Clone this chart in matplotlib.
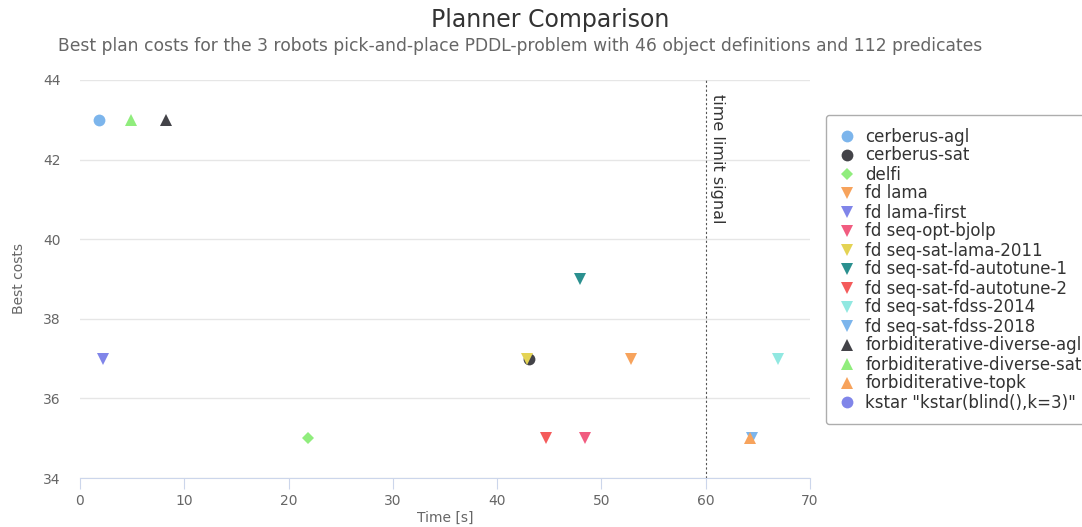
import matplotlib
matplotlib.use("Agg")
import matplotlib.pyplot as plt

plt.rcParams['font.family'] = ['DejaVu Sans']

planners = ["cerberus-agl", "cerberus-sat", "delfi", "fd lama", "fd lama-first",
            "fd seq-opt-bjolp", "fd seq-sat-lama-2011", "fd seq-sat-fd-autotune-1",
            "fd seq-sat-fd-autotune-2", "fd seq-sat-fdss-2014", "fd seq-sat-fdss-2018",
            "forbiditerative-diverse-agl", "forbiditerative-diverse-sat",
            "forbiditerative-topk", 'kstar "kstar(blind(),k=3)"']
times = [[1.8], [43.1], [21.9], [52.8], [2.2], [48.4], [42.9], [47.9], [44.7],
         [66.9], [64.4], [8.2], [4.9], [64.2], []]
costs = [[43], [37], [35], [37], [37], [35], [37], [39], [35], [37], [35], [43], [43], [35], []]
colors = ["#7cb5ec", "#434348", "#90ed7d", "#f7a35c", "#8085e9", "#f15c80", "#e4d354",
          "#2b908f", "#f45b5b", "#91e8e1", "#7cb5ec", "#434348", "#90ed7d", "#f7a35c", "#8085e9"]
markers = ["o", "o", "D", "v", "v", "v", "v", "v", "v", "v", "v", "^", "^", "^", "o"]
sizes = [8.5, 8.5, 6, 8.5, 8.5, 8.5, 8.5, 8.5, 8.5, 8.5, 8.5, 8.5, 8.5, 8.5, 8.5]
time_limit = 60

fig = plt.figure(figsize=(10.82, 5.27), dpi=100)
ax = fig.add_axes([80/1082, 49/527, 730/1082, 398/527])

handles = []
for name, xs, ys, c, m, s in zip(planners, times, costs, colors, markers, sizes):
    h, = ax.plot(xs, ys, linestyle="none", marker=m, color=c, markersize=s,
                 markeredgewidth=0, label=name, zorder=3)
    handles.append(h)

ax.set_xlim(0, 70)
ax.set_ylim(34, 44)
ax.set_xticks(range(0, 71, 10))
ax.set_yticks(range(34, 45, 2))
ax.grid(axis="y", color="#e6e6e6", linewidth=1)
ax.set_axisbelow(True)
for sp in ["top", "right", "left"]:
    ax.spines[sp].set_visible(False)
ax.spines["bottom"].set_color("#ccd6eb")
ax.tick_params(axis="x", colors="#ccd6eb", length=8, labelcolor="#666666", labelsize=10)
ax.tick_params(axis="y", length=0, labelcolor="#666666", labelsize=10, pad=14)

ax.axvline(time_limit, color="#555555", linestyle=(0, (2, 2)), linewidth=0.8, zorder=2)
ax.text(time_limit + 0.45, 43.65, "time limit signal", rotation=-90, va="top", ha="left",
        fontsize=11.5, color="#333333")

ax.set_xlabel("Time [s]", fontsize=10, color="#666666", labelpad=2)
ax.set_ylabel("Best costs", fontsize=10, color="#666666", labelpad=12)

fig.text(550/1082, 1 - 20/527, "Planner Comparison", ha="center", va="center",
         fontsize=17, color="#333333")
fig.text(520/1082, 1 - 46/527,
         "Best plan costs for the 3 robots pick-and-place PDDL-problem with 46 object definitions and 112 predicates",
         ha="center", va="center", fontsize=12.3, color="#666666")

leg = fig.legend(handles=handles, loc="upper left", bbox_to_anchor=(826/1082, 1 - 115/527),
                 fontsize=12, frameon=True, labelspacing=0.06, handletextpad=0.6,
                 handlelength=1.0, borderpad=0.75, borderaxespad=0, markerscale=1.0)
leg.get_frame().set_edgecolor("#999999")
leg.get_frame().set_linewidth(1)
for t in leg.get_texts():
    t.set_color("#333333")

fig.savefig("out.png", dpi=100)
